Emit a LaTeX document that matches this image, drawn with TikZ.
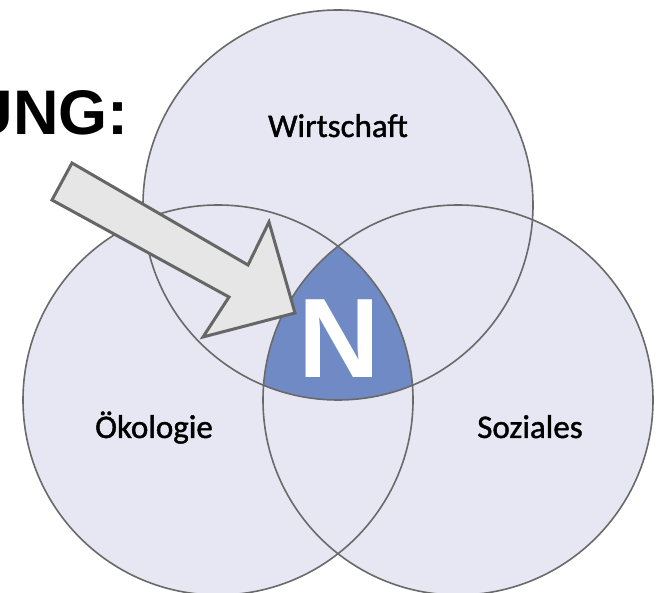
\documentclass[tikz,border=0pt]{standalone}
\usepackage{fontspec}
\setmainfont{Carlito}
\newfontfamily\lblfont{Carlito}[FakeBold=1.3]
\newfontfamily\headfont{Liberation Sans}
\definecolor{circfill}{RGB}{230,231,243}
\definecolor{circline}{RGB}{105,105,105}
\definecolor{nblue}{RGB}{111,138,196}
\definecolor{arrowfill}{RGB}{230,230,230}
\definecolor{arrowline}{RGB}{102,102,102}
\tikzset{
  circ/.style={draw=circline, line width=1.6pt},
  lbl/.style={inner sep=0pt, anchor=base, font=\lblfont\fontsize{33pt}{33pt}\selectfont},
  bigarrow/.style={draw=arrowline, fill=arrowfill, line width=3pt, line join=miter}
}
\begin{document}
\begin{tikzpicture}[x=1pt,y=-1pt]
\useasboundingbox (0,0) rectangle (656,593);
\clip (0,0) rectangle (656,593);
\fill[white] (0,0) rectangle (656,593);
\coordinate (cT) at (338,205);
\coordinate (cL) at (218,400);
\coordinate (cR) at (458,400);
\fill[circfill] (cT) circle (195pt);
\fill[circfill] (cL) circle (195pt);
\fill[circfill] (cR) circle (195pt);
\begin{scope}
  \clip (cT) circle (195pt);
  \clip (cL) circle (195pt);
  \fill[nblue] (cR) circle (195pt);
\end{scope}
\draw[circ] (cT) circle (195pt);
\draw[circ] (cL) circle (195pt);
\draw[circ] (cR) circle (195pt);
\draw[bigarrow] (72,163) -- (248,265) -- (269,222) -- (295,313) -- (203,337) -- (229,297) -- (52,200) -- cycle;
\node[lbl] (wirt) at (338,137) {Wirtschaft};
\node[lbl] (oeko) at (154,438) {Ökologie};
\node[lbl] (soz) at (530,438) {Soziales};
\node[inner sep=0pt, anchor=base, text=white, font=\headfont\bfseries\fontsize{113pt}{113pt}\selectfont] (n) at (339,378) {N};
\node[inner sep=0pt, anchor=base east, font=\headfont\bfseries\fontsize{63pt}{63pt}\selectfont] (ung) at (129,135) {UNG:};
\end{tikzpicture}
\end{document}
